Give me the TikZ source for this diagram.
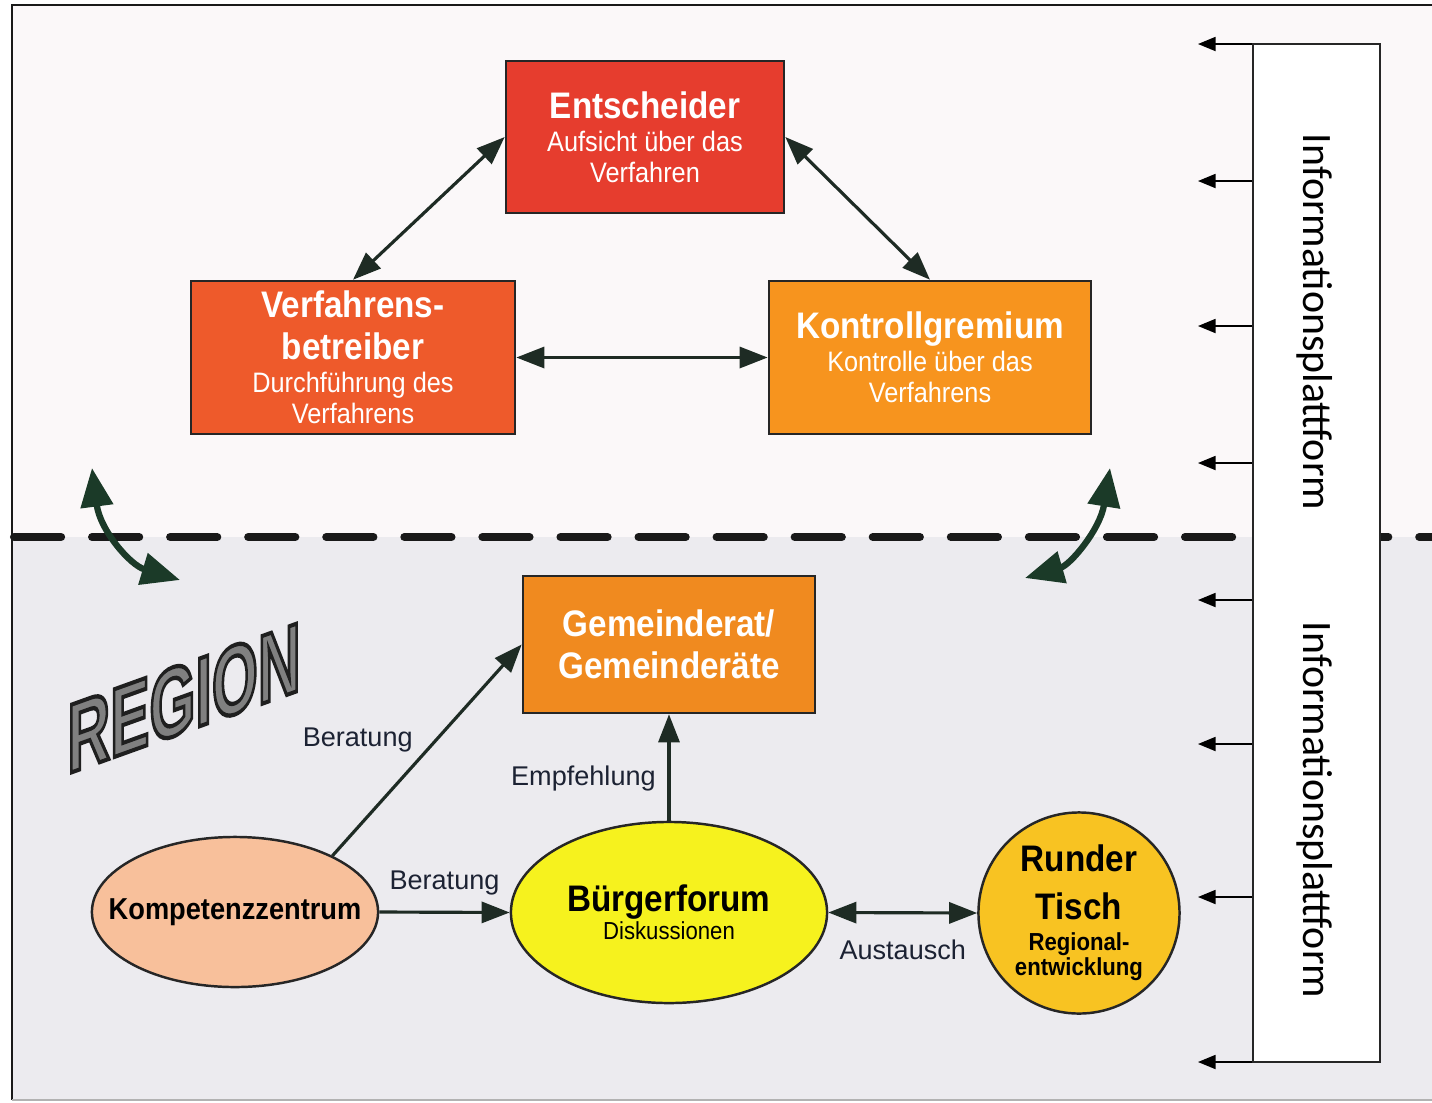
\documentclass[tikz,border=0pt]{standalone}
\usepackage{fontspec}
\setmainfont{Liberation Sans}
\newfontfamily\narrow[FakeStretch=0.9]{Liberation Sans}
\newfontfamily\plat{Carlito}
\usepackage{tikz}
\usetikzlibrary{shapes.geometric,arrows.meta}
\definecolor{topbg}{HTML}{FBF8F9}
\definecolor{lowbg}{HTML}{ECEBEF}
\definecolor{entred}{HTML}{E63D2E}
\definecolor{verfred}{HTML}{EE5A2B}
\definecolor{kontor}{HTML}{F7941E}
\definecolor{gemor}{HTML}{F08A1F}
\definecolor{kompeach}{HTML}{F8C09B}
\definecolor{bfyel}{HTML}{F6F21E}
\definecolor{rtgold}{HTML}{F8C322}
\definecolor{arrowcol}{HTML}{1E2B24}
\definecolor{curvecol}{HTML}{1B3A28}
\definecolor{labelcol}{HTML}{1C2233}
\newcommand{\ttl}{\bfseries\fontsize{10.5}{8.8}\selectfont}
\newcommand{\outlined}[1]{\textcolor{black!50}{\special{pdf:literal direct 0.12 G 2 Tr 1.2 w}#1\special{pdf:literal direct 0 Tr}}}
\tikzset{box/.style={rectangle,draw=black!85,line width=0.7pt,text=white,align=center,inner sep=0pt,font=\narrow\fontsize{8}{8.8}\selectfont}}
\tikzset{oval/.style={ellipse,draw=black!85,line width=0.7pt,align=center,inner sep=0pt,text=black}}
\tikzset{lbl/.style={text=labelcol,font=\fontsize{7.7}{9}\selectfont}}

\begin{document}
\begin{tikzpicture}[x=0.01cm,y=-0.01cm,>={Triangle[length=8pt,width=6pt]},
    link/.style={draw=arrowcol,line width=0.9pt},
    swing/.style={draw=curvecol,line width=1.8pt,{Triangle[length=11pt,width=9pt]}-{Triangle[length=11pt,width=9pt]}},
    infoarrow/.style={draw=black,line width=0.45pt,-{Triangle[length=5pt,width=4pt]}}]
    \useasboundingbox (0,0) rectangle (1432,1102);
    \fill[topbg] (12,5) rectangle (1432,537);
    \fill[lowbg] (12,537) rectangle (1432,1100);
    \draw[black!90,line width=0.6pt] (1432,5) -- (12,5) -- (12,1100);
    \draw[black!30,line width=0.6pt] (12,1100) -- (1432,1100);
    \draw[black!90,line width=2.3pt,line cap=round,dash pattern=on 13.4pt off 8.8pt] (14,537) -- (1432,537);

    \node[rectangle,draw=black!85,line width=0.6pt,fill=white,minimum width=1.27cm,minimum height=10.18cm] (ip) at (1316.5,553) {};
    \node[rotate=-90,font=\plat\fontsize{11.9}{13}\selectfont] (p1) at (1315,322) {Informationsplattform};
    \node[rotate=-90,font=\plat\fontsize{11.9}{13}\selectfont] (p2) at (1315,810) {Informationsplattform};

    \node[box,fill=entred,minimum width=2.78cm,minimum height=1.52cm] (e) at (645,137) {{\ttl Entscheider}\\[0.6pt] Aufsicht über das\\ Verfahren};
    \node[box,fill=verfred,minimum width=3.24cm,minimum height=1.53cm] (v) at (353,357.5) {{\ttl Verfahrens-}\\[3.2pt]{\ttl betreiber}\\[0.6pt] Durchführung des\\ Verfahrens};
    \node[box,fill=kontor,minimum width=3.22cm,minimum height=1.53cm] (k) at (930,357.5) {{\ttl Kontrollgremium}\\[0.6pt] Kontrolle über das\\ Verfahrens};
    \node[box,fill=gemor,minimum width=2.92cm,minimum height=1.37cm,font=\narrow\bfseries\fontsize{10.5}{12}\selectfont] (g) at (669,644.5) {Gemeinderat/\\Gemeinderäte};
    \node[oval,fill=kompeach,minimum width=2.86cm,minimum height=1.5cm,font=\narrow\bfseries\fontsize{8.6}{10}\selectfont] (kz) at (235,912) {\makebox[1cm]{Kompetenzzentrum}};
    \node[oval,fill=bfyel,minimum width=3.16cm,minimum height=1.81cm,font=\narrow\fontsize{7}{8.8}\selectfont] (bf) at (669,912.5) {{\ttl Bürgerforum}\\[-0.8pt] Diskussionen};
    \node[circle,draw=black!85,line width=0.7pt,fill=rtgold,minimum size=2.01cm,inner sep=0pt,align=center,font=\narrow\bfseries\fontsize{7}{7.1}\selectfont] (rt) at (1079,913) {{\ttl Runder}\\[4.9pt]{\ttl Tisch}\\[1.7pt] Regional-\\ entwicklung};

    \node[yslant=0.36,xscale=0.6,inner sep=0pt,font=\bfseries\fontsize{28}{30}\selectfont] (r) at (184,698) {\outlined{REGION}};

    \draw [link,<->] (e.west) to [] (v.north);
    \draw [link,<->] (e.east) to [] (k.north);
    \draw [link,<->] (v.east) to [] (k.west);
    \draw [link,->] (kz.30) to [] node[lbl,pos=0.55,left=3pt]{Beratung} (g.west);
    \draw [link,->] (kz.east) to [] node[lbl,above=1pt]{Beratung} (bf.west);
    \draw [link,->] (bf.north) to [] node[lbl,pos=0.4,left=0pt]{Empfehlung} (g.south);
    \draw [link,<->] (bf.east) to [] node[lbl,below=4pt]{Austausch} (rt.west);

    \coordinate (lt) at (92,468);
    \coordinate (lb) at (180,580);
    \coordinate (rtop) at (1110,468);
    \coordinate (rb) at (1025,578);
    \draw [swing] (lt) .. controls (100,530) and (130,565) .. (lb);
    \draw [swing] (rtop) .. controls (1100,530) and (1070,565) .. (rb);

    \foreach \y [count=\i] in {44,181,326,463,600,744,897,1062} {
        \coordinate (t\i) at (1198,\y);
        \draw [infoarrow] (ip.west |- t\i) -- (t\i);
    }
\end{tikzpicture}
\end{document}
